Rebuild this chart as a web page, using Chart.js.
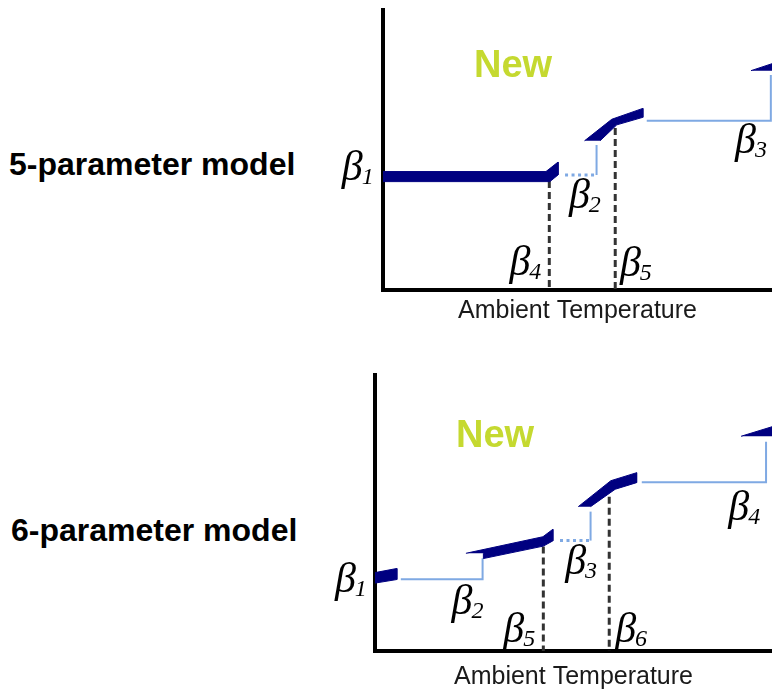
<!DOCTYPE html>
<html>
<head>
<meta charset="utf-8">
<script src="https://cdn.jsdelivr.net/npm/chart.js"></script>
<style>
  html, body { margin: 0; padding: 0; background: #fff; overflow: hidden; }
  body { width: 772px; height: 692px; position: relative; }
  canvas { position: absolute; left: 0; }
  #five { top: 0; }
  #six { top: 365px; }
  .model { position: absolute; font: bold 32px "Liberation Sans", Arial, sans-serif; line-height: 32px; color: #000; white-space: nowrap; }
  .new { position: absolute; font: bold 38px "Liberation Sans", Arial, sans-serif; line-height: 38px; color: #c5d930; }
</style>
</head>
<body>
<div class="model" style="left:9px; top:148px;">5-parameter model</div>
<div class="model" style="left:11px; top:514px;">6-parameter model</div>
<canvas id="five" width="772" height="330"></canvas>
<canvas id="six" width="772" height="327"></canvas>
<div class="new" style="left:474px; top:45px;">New</div>
<div class="new" style="left:456px; top:415px;">New</div>
<script>
// 5-parameter model, x = ambient temperature, y = load (0-100 over the shown range)
const fiveBands = [
  [[0, 42.2], [41.9, 42.2], [45.0, 45.6], [45.0, 41.0], [42.9, 38.6], [0, 38.6]],
  [[51.8, 53.2], [58.8, 60.9], [66.8, 64.8], [66.8, 61.6], [60.1, 58.9], [55.8, 53.2]],
  [[94.6, 78.3], [107.2, 84.1], [107.2, 78.3]]
];
const fiveSteps = [
  [[54.9, 41.0], [54.9, 51.7]],
  [[67.8, 60.4], [99.7, 60.4], [99.7, 76.7]]
];
const fiveDotted = [[46.8, 41.0], [54.9, 41.0]];
const fiveBreaks = [[42.75, 38.8], [59.7, 57.8]];
const fiveBetaX = [-10.6, 47.8, 32.5, 60.9, 90.5];
const fiveBetaY = [39.0, 29.0, 5.2, 4.8, 48.7];
const fiveBetaSub = ['1', '2', '4', '5', '3'];

// 6-parameter model
const sixBands = [
  [[0, 28.4], [5.5, 29.9], [5.5, 25.9], [0, 24.6]],
  [[22.9, 35.4], [42.3, 41.4], [44.8, 44.1], [44.8, 39.9], [42.4, 38.0], [27.3, 33.5], [27.3, 35.4]],
  [[51.2, 52.3], [59.4, 61.7], [65.9, 64.6], [65.9, 61.0], [60.5, 58.6], [54.3, 52.3]],
  [[92.2, 77.8], [107.1, 84.4], [107.1, 77.8]]
];
const sixSteps = [
  [[6.5, 26.0], [27.1, 26.0], [27.1, 33.6]],
  [[54.3, 40.0], [54.3, 50.5]],
  [[67.2, 61.1], [98.5, 61.1], [98.5, 75.8]]
];
const sixDotted = [[46.6, 40.0], [54.3, 40.0]];
const sixBreaks = [[42.4, 37.9], [59.0, 55.9]];
const sixBetaX = [-10.1, 19.3, 32.3, 47.9, 60.5, 89.0];
const sixBetaY = [21.4, 13.4, 3.3, 27.9, 3.3, 47.5];
const sixBetaSub = ['1', '2', '5', '3', '6', '4'];

const NAVY = '#000080';
const LIGHT = '#7fa9e3';

const pts = list => list.map(([x, y]) => ({x, y}));

// beta parameter labels, placed in data units
function betaPlugin(xs, ys, subs) {
  return {
    id: 'betaLabels',
    afterDatasetsDraw(chart) {
      const {ctx, scales: {x, y}} = chart;
      ctx.save();
      ctx.fillStyle = '#000';
      ctx.textAlign = 'left';
      ctx.textBaseline = 'alphabetic';
      xs.forEach((v, i) => {
        const px = x.getPixelForValue(v);
        const py = y.getPixelForValue(ys[i]);
        ctx.font = 'italic 42px "Liberation Serif"';
        ctx.fillText('\u03B2', px, py);
        const w = ctx.measureText('\u03B2').width;
        ctx.font = 'italic 24px "Liberation Serif"';
        ctx.fillText(subs[i], px + w - 1, py + 4);
      });
      ctx.restore();
    }
  };
}

function drawModel(id, bands, steps, dotted, breaks, betaX, betaY, betaSub, titleTop, padding) {
  const datasets = [];
  bands.forEach(b => datasets.push({
    data: pts(b), fill: 'shape', backgroundColor: NAVY, borderColor: NAVY, borderWidth: 1
  }));
  steps.forEach(s => datasets.push({
    data: pts(s), fill: false, borderColor: LIGHT, borderWidth: 2
  }));
  datasets.push({
    data: pts(dotted), fill: false, borderColor: LIGHT, borderWidth: 3, borderDash: [3, 3.5]
  });
  breaks.forEach(([bx, h]) => datasets.push({
    data: [{x: bx, y: h}, {x: bx, y: 0}], fill: false, borderColor: '#333', borderWidth: 3, borderDash: [7, 4]
  }));

  const axis = {
    type: 'linear', min: 0, max: 100,
    grid: {display: false, drawTicks: false},
    ticks: {display: false},
    border: {display: true, width: 4, color: '#000'}
  };

  new Chart(document.getElementById(id), {
    type: 'scatter',
    data: {datasets: datasets.map(d => Object.assign({showLine: true, pointRadius: 0, tension: 0}, d))},
    options: {
      responsive: false,
      animation: false,
      layout: {padding},
      plugins: {legend: {display: false}, tooltip: {enabled: false}},
      scales: {
        x: Object.assign({}, axis, {
          title: {
            display: true, text: 'Ambient Temperature', color: '#1a1a1a',
            font: {family: 'Liberation Sans', size: 25},
            padding: {top: titleTop, bottom: 0}
          }
        }),
        y: axis
      }
    },
    plugins: [betaPlugin(betaX, betaY, betaSub)]
  });
}

drawModel('five', fiveBands, fiveSteps, fiveDotted, fiveBreaks, fiveBetaX, fiveBetaY, fiveBetaSub, 7,
  {left: 383, right: 0, top: 10, bottom: 3.5});
drawModel('six', sixBands, sixSteps, sixDotted, sixBreaks, sixBetaX, sixBetaY, sixBetaSub, 11,
  {left: 375, right: 0, top: 10, bottom: 0});
</script>
</body>
</html>
